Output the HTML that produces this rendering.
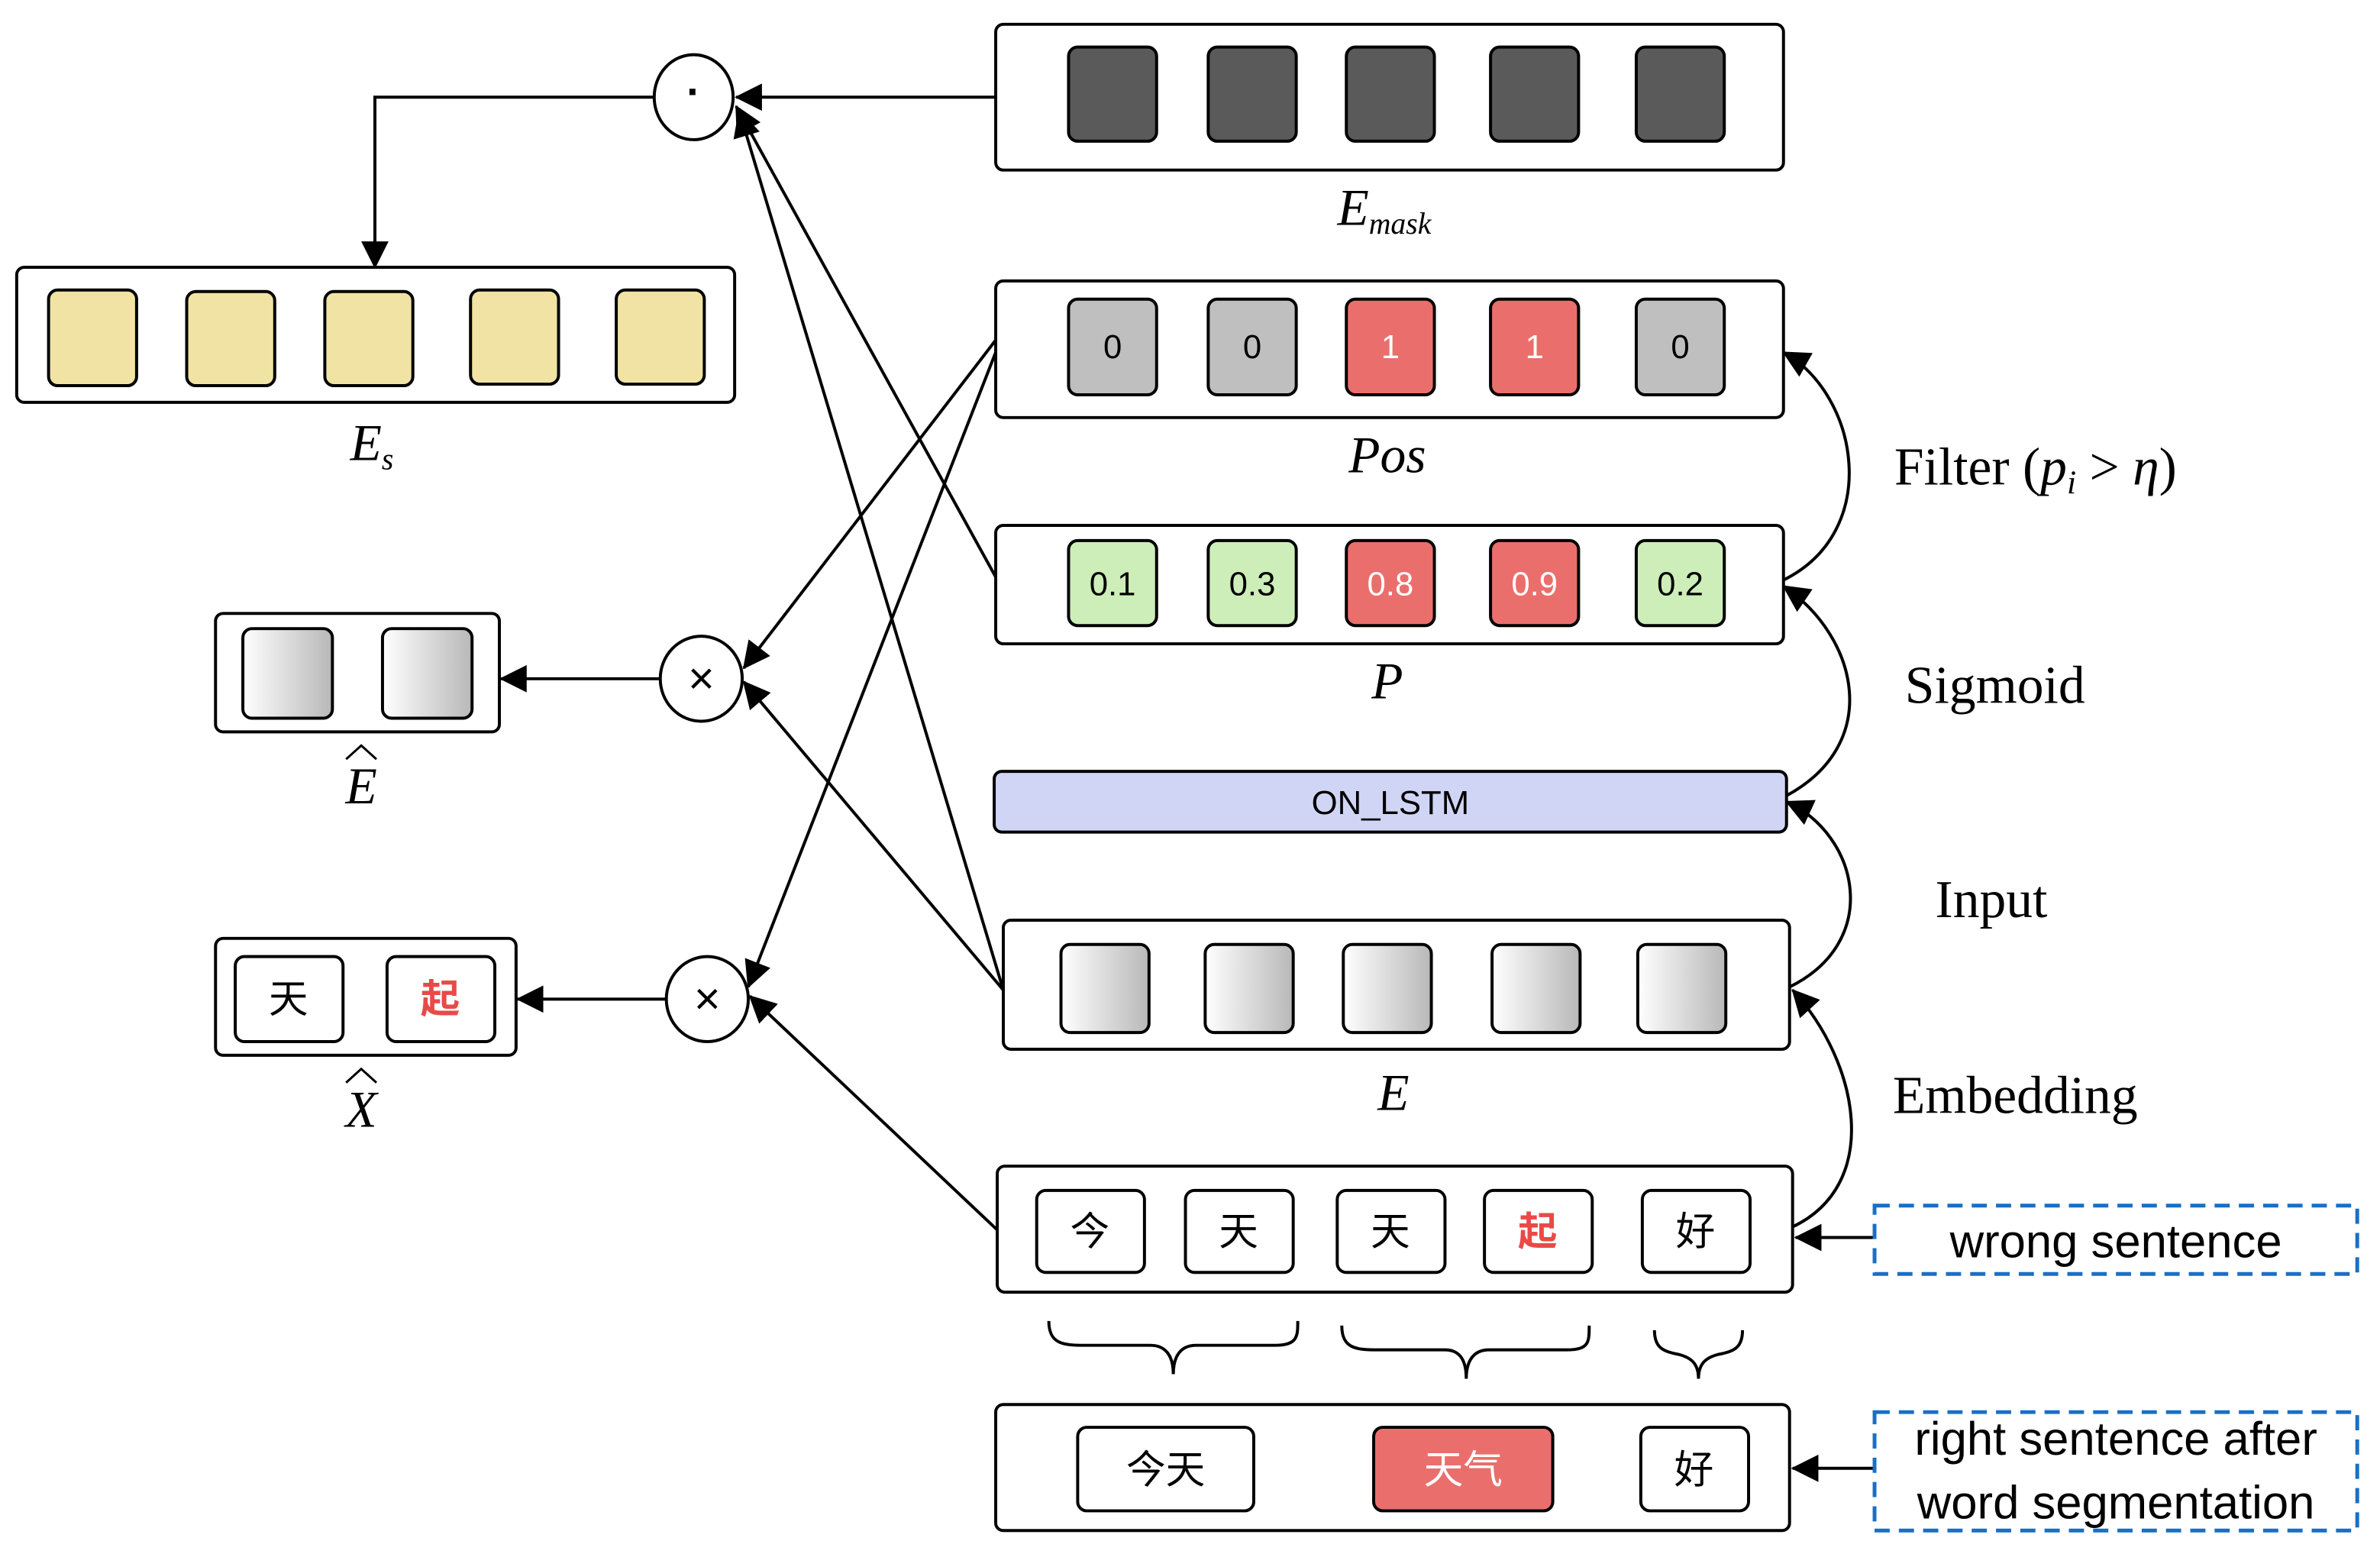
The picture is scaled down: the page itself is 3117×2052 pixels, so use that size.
<!DOCTYPE html>
<html><head><meta charset="utf-8"><style>
html,body{margin:0;padding:0;background:#fff;}
svg{display:block;}
.sans{font-family:"Liberation Sans","Noto Sans CJK SC",sans-serif;}
.serif{font-family:"Liberation Serif","Noto Serif CJK SC",serif;}
</style></head><body>
<svg width="3117" height="2052" viewBox="0 0 1568 1032" preserveAspectRatio="none" xmlns="http://www.w3.org/2000/svg">
<defs>
<marker id="ahb" markerWidth="18" markerHeight="18" refX="17" refY="9" orient="auto" markerUnits="userSpaceOnUse" viewBox="0 0 18 18">
<path d="M0,0 L18,9 L0,18 z" fill="#000"/></marker>
<linearGradient id="g" x1="0" x2="1" y1="0" y2="0"><stop offset="0" stop-color="#fff"/><stop offset="1" stop-color="#b8b8b8"/></linearGradient>
</defs>
<g fill="none" stroke="#000" stroke-width="2">
<rect x="656" y="16" width="519" height="96" rx="5" fill="#fff"/>
<rect x="11" y="176" width="473" height="89" rx="5" fill="#fff"/>
<rect x="656" y="185" width="519" height="90" rx="5" fill="#fff"/>
<rect x="656" y="346" width="519" height="78" rx="5" fill="#fff"/>
<rect x="655" y="508" width="522" height="40" rx="5" fill="#d1d5f5"/>
<rect x="661" y="606" width="518" height="85" rx="5" fill="#fff"/>
<rect x="657" y="768" width="524" height="83" rx="5" fill="#fff"/>
<rect x="656" y="925" width="523" height="83" rx="5" fill="#fff"/>
<rect x="142" y="404" width="187" height="78" rx="5" fill="#fff"/>
<rect x="142" y="618" width="198" height="77" rx="5" fill="#fff"/>
<g fill="#5a5a5a">
<rect x="704" y="31" width="58" height="62" rx="6"/><rect x="796" y="31" width="58" height="62" rx="6"/><rect x="887" y="31" width="58" height="62" rx="6"/><rect x="982" y="31" width="58" height="62" rx="6"/><rect x="1078" y="31" width="58" height="62" rx="6"/>
</g>
<g fill="#f0e3a3">
<rect x="32" y="191" width="58" height="63" rx="6"/><rect x="123" y="192" width="58" height="62" rx="6"/><rect x="214" y="192" width="58" height="62" rx="6"/><rect x="310" y="191" width="58" height="62" rx="6"/><rect x="406" y="191" width="58" height="62" rx="6"/>
</g>
<rect x="704" y="197" width="58" height="63" rx="6" fill="#bfbfbf"/>
<rect x="796" y="197" width="58" height="63" rx="6" fill="#bfbfbf"/>
<rect x="887" y="197" width="58" height="63" rx="6" fill="#ea6f6c"/>
<rect x="982" y="197" width="58" height="63" rx="6" fill="#ea6f6c"/>
<rect x="1078" y="197" width="58" height="63" rx="6" fill="#bfbfbf"/>
<rect x="704" y="356" width="58" height="56" rx="6" fill="#cdeeb8"/>
<rect x="796" y="356" width="58" height="56" rx="6" fill="#cdeeb8"/>
<rect x="887" y="356" width="58" height="56" rx="6" fill="#ea6f6c"/>
<rect x="982" y="356" width="58" height="56" rx="6" fill="#ea6f6c"/>
<rect x="1078" y="356" width="58" height="56" rx="6" fill="#cdeeb8"/>
<g fill="url(#g)">
<rect x="699" y="622" width="58" height="58" rx="6"/><rect x="794" y="622" width="58" height="58" rx="6"/><rect x="885" y="622" width="58" height="58" rx="6"/><rect x="983" y="622" width="58" height="58" rx="6"/><rect x="1079" y="622" width="58" height="58" rx="6"/>
<rect x="160" y="414" width="59" height="59" rx="6"/><rect x="252" y="414" width="59" height="59" rx="6"/>
</g>
<g fill="#fff">
<rect x="683" y="784" width="71" height="54" rx="6"/><rect x="781" y="784" width="71" height="54" rx="6"/><rect x="881" y="784" width="71" height="54" rx="6"/><rect x="978" y="784" width="71" height="54" rx="6"/><rect x="1082" y="784" width="71" height="54" rx="6"/>
<rect x="710" y="940" width="116" height="55" rx="6"/><rect x="1081" y="940" width="71" height="55" rx="6"/>
<rect x="155" y="630" width="71" height="56" rx="6"/><rect x="255" y="630" width="71" height="56" rx="6"/>
</g>
<rect x="905" y="940" width="118" height="55" rx="6" fill="#ea6f6c"/>
<ellipse cx="457" cy="64" rx="26" ry="28" fill="#fff"/>
<ellipse cx="462" cy="447" rx="27" ry="28" fill="#fff"/>
<ellipse cx="466" cy="658" rx="27" ry="28" fill="#fff"/>
<path d="M431,64 H247 V176" marker-end="url(#ahb)"/>
<path d="M656,64 H485" marker-end="url(#ahb)"/>
<path d="M656,380 L485,70" marker-end="url(#ahb)"/>
<path d="M661,652 L487,73" marker-end="url(#ahb)"/>
<path d="M656,224 L490,440" marker-end="url(#ahb)"/>
<path d="M656,232 L493,650" marker-end="url(#ahb)"/>
<path d="M661,652 L490,449" marker-end="url(#ahb)"/>
<path d="M657,810 L494,656" marker-end="url(#ahb)"/>
<path d="M435,447 H330" marker-end="url(#ahb)"/>
<path d="M439,658 H341" marker-end="url(#ahb)"/>
<path d="M1235,815 H1183" marker-end="url(#ahb)"/>
<path d="M1235,967 H1181" marker-end="url(#ahb)"/>
<path d="M1181,808 C1240,780 1225,700 1181,652" marker-end="url(#ahb)"/>
<path d="M1179,650 C1240,620 1225,550 1177,528" marker-end="url(#ahb)"/>
<path d="M1177,524 C1240,490 1225,420 1175,386" marker-end="url(#ahb)"/>
<path d="M1175,382 C1240,350 1225,260 1175,232" marker-end="url(#ahb)"/>
<path d="M691,870 C691,885 700,886 715,886 H758 C768,886 773,893 773,905 C773,893 778,886 788,886 H840 C855,886 855,880 855,870"/>
<path d="M884,873 C884,888 893,889 908,889 H952 C962,889 966,896 966,908 C966,896 971,889 981,889 H1032 C1047,889 1047,884 1047,873"/>
<path d="M1090,876 C1090,888 1096,890 1106,892 C1114,894 1119,898 1119,908 C1119,898 1124,894 1132,892 C1142,890 1148,888 1148,876"/>
</g>
<rect x="1235" y="794" width="318" height="45" fill="none" stroke="#1a6fc4" stroke-width="2.5" stroke-dasharray="10,6"/>
<rect x="1235" y="930" width="318" height="78" fill="none" stroke="#1a6fc4" stroke-width="2.5" stroke-dasharray="10,6"/>
<g class="sans" font-size="22" text-anchor="middle" fill="#000">
<text x="733" y="236">0</text><text x="825" y="236">0</text><text x="916" y="236" fill="#fff">1</text><text x="1011" y="236" fill="#fff">1</text><text x="1107" y="236">0</text>
<text x="733" y="392">0.1</text><text x="825" y="392">0.3</text><text x="916" y="392" fill="#fff">0.8</text><text x="1011" y="392" fill="#fff">0.9</text><text x="1107" y="392">0.2</text>
<text x="916" y="536">ON_LSTM</text>
<text x="457" y="70" font-size="28" font-weight="bold">·</text>
<text x="462" y="457" font-size="30">×</text>
<text x="466" y="668" font-size="30">×</text>
</g>
<g class="sans" font-size="26" text-anchor="middle">
<text x="718" y="820">今</text><text x="816" y="820">天</text><text x="916" y="820">天</text><text x="1013" y="820" fill="#e84a47" font-weight="bold">起</text><text x="1117" y="820">好</text>
<text x="768" y="977">今天</text><text x="964" y="977" fill="#fff">天气</text><text x="1116" y="977">好</text>
<text x="190" y="667">天</text><text x="290" y="667" fill="#e84a47" font-weight="bold">起</text>
</g>
<g class="sans" font-size="31" text-anchor="middle">
<text x="1394" y="828">wrong sentence</text>
<text x="1394" y="958">right sentence after</text>
<text x="1394" y="1000">word segmentation</text>
</g>
<g class="serif" font-size="35" fill="#000">
<text x="1248" y="319">Filter (<tspan font-style="italic">p</tspan><tspan font-style="italic" font-size="22" dy="6">i</tspan><tspan dy="-6"> &gt; </tspan><tspan font-style="italic">η</tspan>)</text>
<text x="1255" y="463">Sigmoid</text>
<text x="1275" y="604">Input</text>
<text x="1247" y="733">Embedding</text>
</g>
<g class="serif" font-style="italic" font-size="34" text-anchor="middle">
<text x="912" y="148">E<tspan font-size="20" dy="6">mask</tspan></text>
<text x="245" y="303">E<tspan font-size="20" dy="6">s</tspan></text>
<text x="914" y="311">Pos</text>
<text x="914" y="460">P</text>
<text x="918" y="731">E</text>
<text x="238" y="529">E</text>
<text x="238" y="742">X</text>
</g>
<g fill="none" stroke="#000" stroke-width="1.5">
<path d="M228,500 L238,491 L248,500"/>
<path d="M228,713 L238,704 L248,713"/>
</g>
</svg>
</body></html>
